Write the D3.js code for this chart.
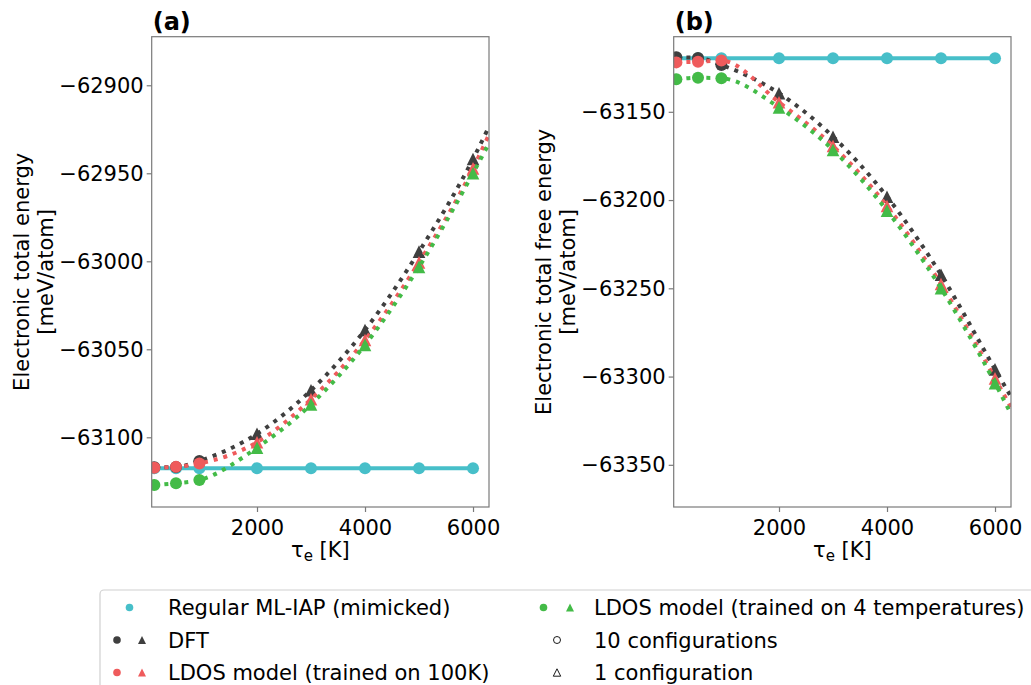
<!DOCTYPE html>
<html><head><meta charset="utf-8">
<script src="https://cdn.jsdelivr.net/npm/d3@7"></script>
<style>
body{margin:0;background:#fff}
text{font-family:"DejaVu Sans",sans-serif;fill:#000}
</style>
</head><body>
<svg id="c" width="1031" height="685"></svg>
<script>
// ---------- data ----------
const temperatures = [100, 500, 933, 2000, 3000, 4000, 5000, 6000];
const nConfig10 = 3; // first three temperatures: 10 configurations (circles), rest: 1 configuration (triangles)
const fitEndTemperature = 6296;

// panel (a): electronic total energy [meV/atom]
const regularA = [-63117.6, -63117.6, -63117.6, -63117.6, -63117.6, -63117.6, -63117.6, -63117.6];
const dftA     = [-63117.0, -63116.9, -63113.4, -63098.0, -63073.3, -63039.0, -62994.5, -62941.9];
const ldos100A = [-63117.3, -63116.8, -63114.9, -63102.8, -63078.4, -63044.7, -63000.6, -62947.2];
const ldos4TA  = [-63127.1, -63126.1, -63124.3, -63105.9, -63081.3, -63047.5, -63003.2, -62950.0];
const fitEndA  = [-62923.5, -62928.0, -62933.0]; // DFT, LDOS 100K, LDOS 4T at right edge

// panel (b): electronic total free energy [meV/atom]
const regularB = [-63119.7, -63119.7, -63119.7, -63119.7, -63119.7, -63119.7, -63119.7, -63119.7];
const dftB     = [-63119.1, -63119.5, -63123.5, -63139.5, -63164.1, -63198.1, -63242.3, -63295.9];
const ldos100B = [-63122.0, -63121.6, -63121.0, -63144.6, -63169.4, -63203.4, -63247.6, -63301.0];
const ldos4TB  = [-63131.6, -63130.7, -63131.0, -63147.5, -63171.6, -63206.0, -63250.0, -63303.7];
const fitEndB  = [-63311.4, -63317.5, -63321.2];

const xTicks = [2000, 4000, 6000];
const yTicksA = [-62900, -62950, -63000, -63050, -63100];
const yTicksB = [-63150, -63200, -63250, -63300, -63350];

const legendItems = [
  {label: "Regular ML-IAP (mimicked)", kind: "reg"},
  {label: "DFT", kind: "dft"},
  {label: "LDOS model (trained on 100K)", kind: "l100"},
  {label: "LDOS model (trained on 4 temperatures)", kind: "l4t"},
  {label: "10 configurations", kind: "open-circle"},
  {label: "1 configuration", kind: "open-tri"}
];

// ---------- styles ----------
const C = {reg: "#47bfc9", dft: "#3f3f3f", l100: "#ef5b5c", l4t: "#43bb47"};
const spine = "#7a7a7a";
const FS = "21px";

const svg = d3.select("#c");

function tri(h){ return `M0,${-h}L${h},${h}L${-h},${h}Z`; }

function panel(opt){
  const {left, right, top, bottom, yDomain, yTicks, title, ylab1, ylab2, reg, series, fitEnd, id} = opt;
  const x = d3.scaleLinear().domain([50, fitEndTemperature]).range([left, right]);
  const y = d3.scaleLinear().domain(yDomain).range([bottom, top]);
  const g = svg.append("g");

  g.append("clipPath").attr("id", id).append("rect")
    .attr("x", left).attr("y", top).attr("width", right - left).attr("height", bottom - top);
  const plot = g.append("g").attr("clip-path", `url(#${id})`);

  // regular ML-IAP
  const regPts = temperatures.map((t, i) => [t, reg[i]]);
  plot.append("path").datum(regPts)
    .attr("d", d3.line().x(d => x(d[0])).y(d => y(d[1])))
    .attr("fill", "none").attr("stroke", C.reg).attr("stroke-width", 4);
  plot.selectAll(null).data(regPts).enter().append("circle")
    .attr("cx", d => x(d[0])).attr("cy", d => y(d[1])).attr("r", 6).attr("fill", C.reg);

  series.forEach((s, k) => {
    const pts = temperatures.map((t, i) => [t, s.vals[i]]);
    const linePts = pts.concat([[fitEndTemperature, fitEnd[k]]]);
    plot.append("path").datum(linePts)
      .attr("d", d3.line().curve(d3.curveMonotoneX).x(d => x(d[0])).y(d => y(d[1])))
      .attr("fill", "none").attr("stroke", s.color).attr("stroke-width", 4)
      .attr("stroke-dasharray", "4,6");
    plot.selectAll(null).data(pts.slice(0, nConfig10)).enter().append("circle")
      .attr("cx", d => x(d[0])).attr("cy", d => y(d[1])).attr("r", 6).attr("fill", s.color);
    plot.selectAll(null).data(pts.slice(nConfig10)).enter().append("path")
      .attr("d", tri(6.3))
      .attr("transform", d => `translate(${x(d[0])},${y(d[1])})`).attr("fill", s.color);
  });

  // frame
  g.append("rect").attr("x", left).attr("y", top).attr("width", right - left).attr("height", bottom - top)
    .attr("fill", "none").attr("stroke", spine).attr("stroke-width", 1.2);

  // axes
  const xa = g.append("g").attr("transform", `translate(0,${bottom})`)
    .call(d3.axisBottom(x).tickValues(xTicks).tickFormat(d3.format("d")).tickSize(5).tickPadding(4));
  const ya = g.append("g").attr("transform", `translate(${left},0)`)
    .call(d3.axisLeft(y).tickValues(yTicks).tickFormat(d3.format("d")).tickSize(5).tickPadding(3));
  [xa, ya].forEach(a => {
    a.select(".domain").remove();
    a.selectAll(".tick line").attr("stroke", spine).attr("stroke-width", 1.2);
    a.selectAll(".tick text").style("font-size", FS).attr("fill", "#000");
  });
  xa.selectAll(".tick text").attr("dy", "0.92em");

  // x label
  const xl = g.append("text").attr("x", (left + right) / 2).attr("y", 557)
    .attr("text-anchor", "middle").style("font-size", FS);
  xl.append("tspan").text("τ");
  xl.append("tspan").text("e").attr("dy", 4).style("font-size", "15px");
  xl.append("tspan").text(" [K]").attr("dy", -4);

  // y label
  const cy = (top + bottom) / 2;
  g.append("text").attr("transform", `translate(${left - 123},${cy}) rotate(-90)`)
    .attr("text-anchor", "middle").style("font-size", FS).text(ylab1);
  g.append("text").attr("transform", `translate(${left - 98.5},${cy}) rotate(-90)`)
    .attr("text-anchor", "middle").style("font-size", FS).text(ylab2);

  // title
  g.append("text").attr("x", left + 1).attr("y", 30).style("font-size", "24px")
    .style("font-weight", "bold").text(title);
}

panel({
  id: "clipA", left: 151.7, right: 489, top: 36.7, bottom: 507,
  yDomain: [-63139.6, -62872.4], yTicks: yTicksA, title: "(a)",
  ylab1: "Electronic total energy", ylab2: "[meV/atom]",
  reg: regularA, fitEnd: fitEndA,
  series: [{vals: dftA, color: C.dft}, {vals: ldos100A, color: C.l100}, {vals: ldos4TA, color: C.l4t}]
});
panel({
  id: "clipB", left: 673.7, right: 1011, top: 36.7, bottom: 507,
  yDomain: [-63373.9, -63107.45], yTicks: yTicksB, title: "(b)",
  ylab1: "Electronic total free energy", ylab2: "[meV/atom]",
  reg: regularB, fitEnd: fitEndB,
  series: [{vals: dftB, color: C.dft}, {vals: ldos100B, color: C.l100}, {vals: ldos4TB, color: C.l4t}]
});

// ---------- legend ----------
const lg = svg.append("g");
lg.append("rect").attr("x", 100).attr("y", 590).attr("width", 960).attr("height", 120).attr("rx", 4)
  .attr("fill", "#fff").attr("stroke", "#d0d0d0").attr("stroke-width", 1.2);
const rowY = [607.5, 640, 672.5];
const colText = [168, 594];
const colMk = [[117, 142, 129.5], [543.5, 570, 557]];
legendItems.forEach((it, i) => {
  const col = Math.floor(i / 3), row = i % 3;
  const yy = rowY[row];
  const [mc, mt, mm] = colMk[col];
  const k = it.kind;
  if (k === "reg") {
    lg.append("circle").attr("cx", mm).attr("cy", yy).attr("r", 3.8).attr("fill", C.reg);
  } else if (k === "open-circle") {
    lg.append("circle").attr("cx", mm).attr("cy", yy).attr("r", 3.5).attr("fill", "#fff")
      .attr("stroke", "#000").attr("stroke-width", 0.9);
  } else if (k === "open-tri") {
    lg.append("path").attr("d", tri(3.7)).attr("transform", `translate(${mm},${yy})`)
      .attr("fill", "#fff").attr("stroke", "#000").attr("stroke-width", 0.9);
  } else {
    lg.append("circle").attr("cx", mc).attr("cy", yy).attr("r", 3.8).attr("fill", C[k]);
    lg.append("path").attr("d", tri(4)).attr("transform", `translate(${mt},${yy})`).attr("fill", C[k]);
  }
  lg.append("text").attr("x", colText[col]).attr("y", yy).attr("dy", "0.36em")
    .style("font-size", FS).text(it.label);
});
</script>
</body></html>
